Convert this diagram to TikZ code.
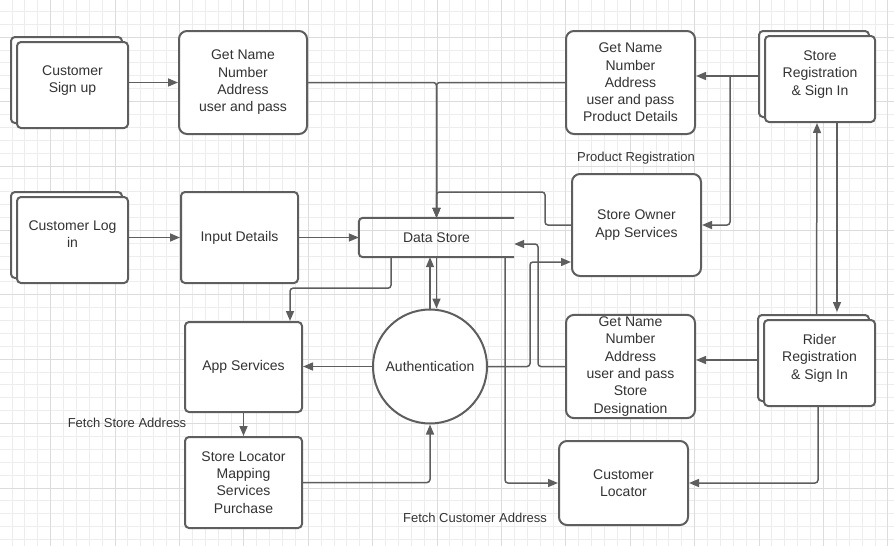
\documentclass[tikz,border=0pt]{standalone}
\usepackage{fontspec}
\setmainfont{Liberation Sans}
\usetikzlibrary{arrows.meta,shadows}

\definecolor{lineclr}{HTML}{5E5E5E}
\definecolor{textclr}{HTML}{333333}
\definecolor{gridminor}{HTML}{EDEDED}
\definecolor{gridmajor}{HTML}{DCDCDC}

\tikzset{
  box/.style={draw=lineclr, line width=2pt, fill=white, rounded corners=8pt,
    align=center, text=textclr, inner sep=2pt,
    font=\fontsize{14pt}{17.3pt}\selectfont},
  stackbox/.style={box, rounded corners=4pt,
    copy shadow={shadow xshift=-6pt, shadow yshift=5pt, draw=lineclr, line width=2pt, fill=white}},
  flow/.style={draw=lineclr, line width=1.5pt, rounded corners=3pt,
    -{Triangle[length=10pt,width=8pt]}},
  lbl/.style={text=textclr, font=\fontsize{13pt}{15pt}\selectfont},
}

\begin{document}
\begin{tikzpicture}[x=1pt, y=-1pt]
    \useasboundingbox (0,0) rectangle (894,546);
    % Background grid
    \foreach \i in {0,...,68}
        \draw[gridminor, line width=1pt] ({12.06+\i*12.88},0) -- ++(0,546);
    \foreach \i in {0,...,41}
        \draw[gridminor, line width=1pt] (0,{11.44+\i*12.88}) -- ++(894,0);
    \foreach \i in {1,...,14}
        \draw[gridmajor, line width=1pt] ({-13.7+\i*64.4},0) -- ++(0,546);
    \foreach \i in {0,...,7}
        \draw[gridmajor, line width=1pt] (0,{37.2+\i*64.4}) -- ++(894,0);

    % Customer side
    \node[stackbox, minimum width=111pt, minimum height=86pt] (csign) at (72.5,85) {Customer\\Sign up\\[-5pt]};
    \node[box, minimum width=128pt, minimum height=103pt] (getA) at (243,82.5) {Get Name\\Number\\Address\\user and pass};
    \node[stackbox, minimum width=111pt, minimum height=86pt] (clog) at (72.5,240) {Customer Log\\in\\[-5pt]};
    \node[box, rounded corners=4pt, minimum width=117pt, minimum height=91pt] (inp) at (239.5,237.5) {Input Details};

    % Data store (open on the right)
    \node[text=textclr, font=\fontsize{14pt}{17.3pt}\selectfont, minimum width=155pt, minimum height=39pt] (ds) at (436.5,237.5) {Data Store};
    \draw[lineclr, line width=2pt, rounded corners=4pt] (ds.north east) -- (ds.north west) -- (ds.south west) -- (ds.south east);

    % Store side
    \node[box, minimum width=129pt, minimum height=103pt] (getB) at (630.5,82.5) {Get Name\\Number\\Address\\user and pass\\Product Details};
    \node[stackbox, minimum width=110pt, minimum height=86pt] (sreg) at (820,79) {Store\\Registration\\\& Sign In\\[-5pt]};
    \node[box, minimum width=129pt, minimum height=102pt] (sown) at (636.5,225) {Store Owner\\App Services};
    \node[lbl] (prodreg) at (636,158) {Product Registration};

    % Authentication and app services
    \node[draw=lineclr, line width=2pt, circle, fill=white, minimum size=114pt, inner sep=0pt,
          text=textclr, font=\fontsize{14pt}{17.3pt}\selectfont] (auth) at (430,366.5) {Authentication};
    \node[box, rounded corners=4pt, minimum width=117pt, minimum height=90pt] (apps) at (243.5,367) {App Services};
    \node[box, rounded corners=4pt, minimum width=117pt, minimum height=91pt] (sloc) at (243.5,482.5) {Store Locator\\Mapping\\Services\\Purchase};
    \node[lbl] (fstore) at (127,423) {Fetch Store Address};

    % Rider side
    \node[box, minimum width=129pt, minimum height=103pt] (getC) at (630.5,366.5) {Get Name\\Number\\Address\\user and pass\\Store\\Designation};
    \node[stackbox, minimum width=111pt, minimum height=86pt] (rider) at (819.5,363) {Rider\\Registration\\\& Sign In\\[-5pt]};
    \node[box, minimum width=129pt, minimum height=84pt] (cloc) at (623.5,483) {Customer\\Locator};
    \node[lbl] (fcust) at (475,518) {Fetch Customer Address};

    % Customer connectors
    \draw[flow] (getA.west -| csign.east) -- (getA.west);
    \draw[flow] (inp.west -| clog.east) -- (inp.west);
    \draw[flow] (inp.east) -- (ds.west);
    \draw[flow] (getA.east) -| (ds.north);
    \draw[flow] (getB.west) -| (ds.north);
    \draw[flow] (sown.west) -| (545,192) -| (ds.north);

    % Store registration connectors
    \draw[flow] ([xshift=-5pt,yshift=3pt]sreg.west) coordinate (sr) -- (sr -| getB.east);
    \draw[flow] ([xshift=-29pt]sr) |- (sown.east);
    \draw[flow] ([xshift=-3pt,yshift=5pt]rider.north) -- ([xshift=-3pt]sreg.south);
    \draw[flow] ([xshift=17pt]sreg.south) -- ([xshift=17.5pt,yshift=7pt]rider.north);

    % Rider connectors
    \draw[flow] ([xshift=-5pt,yshift=3pt]rider.west) coordinate (rr) -- (rr -| getC.east);
    \draw[flow] ([xshift=-1.5pt]rider.south) |- (cloc.east);
    \draw[flow] (getC.west) -- ++(-27,0) |- ([yshift=-6.5pt]ds.east);
    \draw[flow] (auth.east) -- ++(42,0) |- ([yshift=-37pt]sown.west);
    \draw[flow] ([xshift=68.5pt]ds.south) |- (cloc.west);

    % Authentication connectors
    \draw[flow] (auth.north) -- (auth.north |- ds.south);
    \draw[flow] (ds.south) -- (ds.south |- auth.north);
    \draw[flow] ([xshift=-45.5pt]ds.south) -- ++(0,31) -| ([xshift=46.5pt]apps.north);
    \draw[flow] (auth.west) -- (auth.west -| apps.east);
    \draw[flow] (apps.south) -- (sloc.north);
    \draw[flow] (sloc.east) -| (auth.south);
\end{tikzpicture}
\end{document}
